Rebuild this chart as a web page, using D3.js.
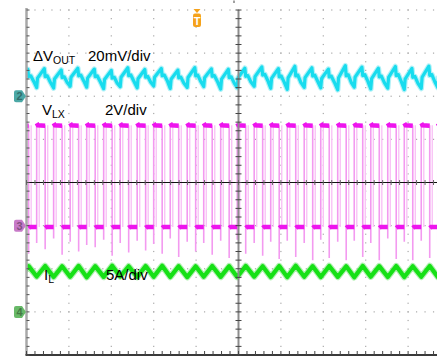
<!DOCTYPE html>
<html><head><meta charset="utf-8">
<script src="https://cdn.jsdelivr.net/npm/d3@7"></script>
<style>html,body{margin:0;padding:0;background:#fff;overflow:hidden}svg{display:block}</style>
</head><body>
<svg id="scope" width="437" height="356"></svg>
<script>
// Time base: 1 µs/div, 10 divisions. One entry per switching cycle.
const lxRise = [-0.15, 0.24, 0.64, 1.03, 1.42, 1.82, 2.21, 2.61, 3.00, 3.39, 3.79, 4.18, 4.58, 4.97, 5.37, 5.76, 6.15, 6.55, 6.94, 7.34, 7.73, 8.12, 8.52, 8.91, 9.31, 9.70];
const lxFall = [0.05, 0.44, 0.84, 1.23, 1.62, 2.02, 2.41, 2.81, 3.20, 3.59, 3.99, 4.38, 4.78, 5.17, 5.57, 5.96, 6.35, 6.75, 7.14, 7.54, 7.93, 8.32, 8.72, 9.11, 9.51, 9.90];

// Switch node levels (V) and the undershoot seen at each edge (V)
const lxHigh = 4.65;
const lxLow = -0.06;
const lxDipFall = [-1.3, -1.1, -1.35, -1.2, -1.0, -1.4, -1.25, -1.15, -1.3, -1.45, -1.2, -1.35, -1.5, -1.3, -1.4, -1.55, -1.45, -1.6, -1.5, -1.6, -1.45, -1.6, -1.55, -1.6, -1.5, -1.6];
const lxDipRise = [-0.7, -0.8, -0.6, -0.75, -0.9, -0.65, -0.8, -0.7, -0.85, -0.6, -0.75, -0.8, -0.7, -0.65, -0.8, -0.75, -0.7, -0.8, -0.65, -0.75, -0.7, -0.8, -0.6, -0.75, -0.7, -0.8];

// Inductor current (A): valley at each rising edge, peak at each falling edge
const ilValley = [4.05, 4.10, 4.05, 4.08, 4.02, 4.06, 4.10, 4.04, 4.07, 4.05, 4.03, 4.08, 4.06, 4.04, 4.09, 4.05, 4.03, 4.07, 4.05, 4.06, 4.02, 4.08, 4.05, 4.04, 4.07, 4.05];
const ilPeak = [5.30, 5.32, 5.28, 5.33, 5.30, 5.35, 5.29, 5.31, 5.34, 5.30, 5.28, 5.32, 5.30, 5.33, 5.29, 5.31, 5.35, 5.30, 5.32, 5.28, 5.33, 5.30, 5.31, 5.29, 5.32, 5.30];

// Output ripple (mV, AC coupled): valley and peak for each cycle
const voutValley = [4.5, 4.0, 3.8, 4.6, 4.2, 3.5, 4.4, 3.9, 4.8, 3.6, 4.1, 4.5, 3.3, 4.0, 4.6, 3.7, 3.2, 4.1, 3.9, 3.0, 4.2, 3.4, 3.8, 3.1, 3.6, 4.0];
const voutPeak = [12.5, 12.8, 12.2, 13.0, 12.6, 12.0, 13.2, 12.4, 12.9, 12.1, 13.3, 12.7, 12.5, 13.0, 13.6, 12.8, 13.9, 13.2, 12.6, 14.2, 13.5, 13.0, 13.8, 12.9, 14.0, 13.4];
// ripple shape inside one cycle: [µs after rising edge, fraction of valley→peak]
const rippleShape = [[0.00, 0.00], [0.02, 0.50], [0.18, 1.00], [0.20, 0.58], [0.25, 0.62], [0.32, 0.30]];

// Channel settings
const channels = [
  {id: "2", offset: 2, color: "#4ba8a6"},
  {id: "3", offset: -1, color: "#c77ac8"},
  {id: "4", offset: -3, color: "#68b968"}
];

const svg = d3.select("#scope");
const pLeft = 26.5, pRight = 437, pTop = 10, pBottom = 355;

const x = d3.scaleLinear().domain([0, 10]).range([pLeft, 450.5]);
const yDiv = d3.scaleLinear().domain([-4, 4]).range([pBottom, pTop]);
const yVout = d3.scaleLinear().domain([(-4 - 2) * 20, (4 - 2) * 20]).range([pBottom, pTop]);   // 20 mV/div
const yLx = d3.scaleLinear().domain([(-4 + 1) * 2, (4 + 1) * 2]).range([pBottom, pTop]);       // 2 V/div
const yIl = d3.scaleLinear().domain([(-4 + 3) * 5, (4 + 3) * 5]).range([pBottom, pTop]);       // 5 A/div

svg.append("defs").append("clipPath").attr("id", "plot")
  .append("rect").attr("x", pLeft).attr("y", 0).attr("width", pRight - pLeft).attr("height", pBottom);

// ---- graticule dots
const minorX = d3.range(0, 51).map(i => i / 5).filter(t => x(t) <= pRight);
const minorY = d3.range(0, 41).map(j => -4 + j / 5);
const grid = svg.append("g").attr("fill", "#a9a9a9");
[1, 2, 3, 4, 6, 7, 8, 9].forEach(k => {
  grid.selectAll(null).data(minorY).join("rect")
    .attr("x", x(k) - 0.6).attr("y", d => yDiv(d) - 0.6).attr("width", 1.2).attr("height", 1.2);
});
[-3, -2, -1, 1, 2, 3, 4].forEach(k => {
  grid.selectAll(null).data(minorX).join("rect")
    .attr("x", d => x(d) - 0.6).attr("y", yDiv(k) - 0.6).attr("width", 1.2).attr("height", 1.2);
});

// ---- traces
const traces = svg.append("g").attr("clip-path", "url(#plot)");
const n = lxRise.length;

// ΔVOUT
const voutPts = [];
for (let i = 0; i < n; i++) {
  const lo = voutValley[i], hi = voutPeak[i];
  rippleShape.forEach(([dt, f]) => voutPts.push([lxRise[i] + dt, lo + f * (hi - lo)]));
}
const voutLine = d3.line().x(d => x(d[0])).y(d => yVout(d[1]));
traces.append("path").attr("d", voutLine(voutPts)).attr("fill", "none")
  .attr("stroke", "#7fe8f2").attr("stroke-opacity", 0.6).attr("stroke-width", 5.5).attr("stroke-linejoin", "round");
traces.append("path").attr("d", voutLine(voutPts)).attr("fill", "none")
  .attr("stroke", "#18dcee").attr("stroke-width", 3.2).attr("stroke-linejoin", "round");

// VLX edges (light persistence lines, with a second jittered copy)
const edges = [];
for (let i = 0; i < n; i++) {
  edges.push({t: lxRise[i], lo: lxDipRise[i]});
  edges.push({t: lxFall[i], lo: lxDipFall[i]});
}
traces.append("g").selectAll("line").data(edges).join("line")
  .attr("x1", d => x(d.t + 0.06)).attr("x2", d => x(d.t + 0.06))
  .attr("y1", yLx(lxLow)).attr("y2", yLx(lxHigh))
  .attr("stroke", "#f9c3f6").attr("stroke-width", 1.4);
traces.append("g").selectAll("line").data(edges).join("line")
  .attr("x1", d => x(d.t)).attr("x2", d => x(d.t))
  .attr("y1", d => yLx(d.lo)).attr("y2", yLx(lxHigh))
  .attr("stroke", "#f39af0").attr("stroke-width", 1.6);

// VLX levels
const lvl = d3.line().x(d => x(d[0])).y(d => yLx(d[1]));
const highSegs = lxRise.map((r, i) => [[r, lxHigh + 0.1], [r + 0.03, lxHigh], [lxFall[i], lxHigh - 0.02]]);
const lowSegs = lxFall.map((f, i) => [[f, lxLow - 0.05], [f + 0.03, lxLow], [i + 1 < n ? lxRise[i + 1] : f + 0.19, lxLow]]);
traces.append("g").selectAll("path").data(highSegs.concat(lowSegs)).join("path")
  .attr("d", lvl).attr("fill", "none").attr("stroke", "#ee14ee").attr("stroke-width", 4.5);

// IL
const ilPts = [];
for (let i = 0; i < n; i++) { ilPts.push([lxRise[i], ilValley[i]]); ilPts.push([lxFall[i], ilPeak[i]]); }
const ilLine = d3.line().x(d => x(d[0])).y(d => yIl(d[1]));
traces.append("path").attr("d", ilLine(ilPts)).attr("fill", "none")
  .attr("stroke", "#7de67d").attr("stroke-opacity", 0.6).attr("stroke-width", 6.5).attr("stroke-linejoin", "round");
traces.append("path").attr("d", ilLine(ilPts)).attr("fill", "none")
  .attr("stroke", "#16e016").attr("stroke-width", 4.2).attr("stroke-linejoin", "round");

// ---- frame and centre axes
const frame = svg.append("g");
frame.append("line").attr("x1", pLeft).attr("x2", pRight).attr("y1", yDiv(0)).attr("y2", yDiv(0))
  .attr("stroke", "#111").attr("stroke-width", 1.2);
frame.append("line").attr("x1", x(5)).attr("x2", x(5)).attr("y1", pTop).attr("y2", pBottom)
  .attr("stroke", "#8c8c8c").attr("stroke-width", 2);
frame.append("line").attr("x1", pLeft).attr("x2", pLeft).attr("y1", pTop - 2).attr("y2", pBottom)
  .attr("stroke", "#a8a8a8").attr("stroke-width", 2.5);
frame.append("line").attr("x1", pLeft - 1).attr("x2", pRight).attr("y1", pBottom).attr("y2", pBottom)
  .attr("stroke", "#3a3a3a").attr("stroke-width", 2);
frame.selectAll(null).data(minorX).join("line")
  .attr("x1", d => x(d)).attr("x2", d => x(d)).attr("y1", yDiv(0) - 2.5).attr("y2", yDiv(0) + 2.5)
  .attr("stroke", "#666").attr("stroke-width", 1);
frame.selectAll(null).data(minorX).join("line")
  .attr("x1", d => x(d)).attr("x2", d => x(d)).attr("y1", pBottom - 4).attr("y2", pBottom)
  .attr("stroke", "#444").attr("stroke-width", 1);
frame.selectAll(null).data(minorY).join("line")
  .attr("x1", x(5) - 3).attr("x2", x(5) + 3).attr("y1", d => yDiv(d)).attr("y2", d => yDiv(d))
  .attr("stroke", "#444").attr("stroke-width", 1);
frame.selectAll(null).data(minorY).join("line")
  .attr("x1", pLeft).attr("x2", pLeft + 3).attr("y1", d => yDiv(d)).attr("y2", d => yDiv(d))
  .attr("stroke", "#555").attr("stroke-width", 1);
frame.append("rect").attr("x", 233.5).attr("y", 0.5).attr("width", 1).attr("height", 2.5).attr("fill", "#444");

// ---- channel ground markers
const markers = svg.append("g");
channels.forEach(c => {
  const cy = yDiv(c.offset);
  markers.append("path")
    .attr("d", `M16,${cy - 6} h6 l4,6 l-4,6 h-6 q-2,0 -2,-2 v-8 q0,-2 2,-2 z`)
    .attr("fill", c.color);
  markers.append("text").attr("x", 19.5).attr("y", cy + 4).attr("text-anchor", "middle")
    .attr("font-family", "Liberation Sans, Arial, sans-serif").attr("font-size", 11).attr("font-weight", "bold")
    .attr("fill", d3.color(c.color).darker(1.2)).text(c.id);
});

// ---- trigger position marker
const trig = svg.append("g").attr("fill", "#f5a21c");
trig.append("path").attr("d", "M193.5,9 h7 l-3.5,4 z");
trig.append("rect").attr("x", 193).attr("y", 13.5).attr("width", 8).attr("height", 13.5).attr("rx", 2);
svg.append("text").attr("x", 197).attr("y", 24.5).attr("text-anchor", "middle")
  .attr("font-family", "Liberation Sans, Arial, sans-serif").attr("font-size", 11).attr("font-weight", "bold")
  .attr("fill", "#fff").text("T");

// ---- channel labels
const labels = [
  {x: 33, y: 61, main: "ΔV", sub: "OUT", scale: "20mV/div", sx: 88},
  {x: 42, y: 115, main: "V", sub: "LX", scale: "2V/div", sx: 105},
  {x: 44, y: 280, main: "I", sub: "L", scale: "5A/div", sx: 106}
];
const lab = svg.append("g").attr("font-family", "Liberation Sans, Arial, sans-serif").attr("fill", "#000");
labels.forEach(l => {
  const t = lab.append("text").attr("x", l.x).attr("y", l.y).attr("font-size", 15);
  t.append("tspan").text(l.main);
  t.append("tspan").attr("font-size", 10.5).attr("dy", 3).text(l.sub);
  lab.append("text").attr("x", l.sx).attr("y", l.y).attr("font-size", 15).text(l.scale);
});
</script>
</body></html>
